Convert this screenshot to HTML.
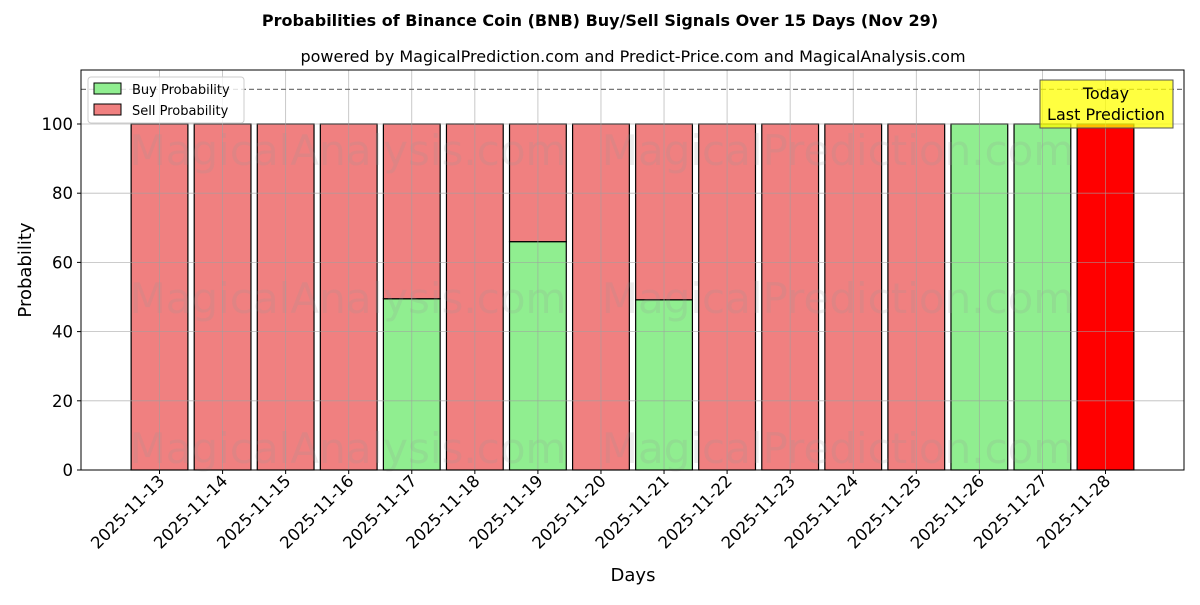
<!DOCTYPE html>
<html><head><meta charset="utf-8"><style>
body{margin:0;background:#fff;font-family:"Liberation Sans","DejaVu Sans",sans-serif}
svg text{font-family:"DejaVu Sans","Liberation Sans",sans-serif}
</style></head><body>
<svg id="c" width="1200" height="600" xmlns="http://www.w3.org/2000/svg"></svg>
<script>
const categories=["2025-11-13","2025-11-14","2025-11-15","2025-11-16","2025-11-17","2025-11-18","2025-11-19","2025-11-20","2025-11-21","2025-11-22","2025-11-23","2025-11-24","2025-11-25","2025-11-26","2025-11-27","2025-11-28"];
const buyValues=[0,0,0,0,49.5,0,66,0,49.2,0,0,0,0,100,100,0];
const sellValues=[100,100,100,100,50.5,100,34,100,50.8,100,100,100,100,0,0,100];
const yTicks=[0,20,40,60,80,100];
const NS="http://www.w3.org/2000/svg";
const svg=document.getElementById('c');
const L=81,R=1184,T=70,B=470;
const xMin=-1.245,xMax=16.245;
const x=v=>L+(v-xMin)/(xMax-xMin)*(R-L);
const y=v=>B-v*3.46;
function el(tag,attrs,parent){const e=document.createElementNS(NS,tag);for(const k in attrs)e.setAttribute(k,attrs[k]);(parent||svg).appendChild(e);return e;}
function txt(s,attrs){const e=el('text',attrs);e.textContent=s;return e;}
let t;
t=txt("Probabilities of Binance Coin (BNB) Buy/Sell Signals Over 15 Days (Nov 29)",{x:600,y:26,"text-anchor":"middle","font-size":16,"font-weight":"bold"});

t=txt("powered by MagicalPrediction.com and Predict-Price.com and MagicalAnalysis.com",{x:633,y:62,"text-anchor":"middle","font-size":16});

const bw=0.9;
categories.forEach((c,i)=>{
  const last=i===categories.length-1;
  if(buyValues[i]>0){const r=el('rect',{x:x(i-bw/2),y:y(buyValues[i]),width:x(i+bw/2)-x(i-bw/2),height:y(0)-y(buyValues[i]),fill:'#90ee90',stroke:'#000','stroke-width':1.2});
  }
  if(sellValues[i]>0){const r=el('rect',{x:x(i-bw/2),y:y(buyValues[i]+sellValues[i]),width:x(i+bw/2)-x(i-bw/2),height:y(buyValues[i])-y(buyValues[i]+sellValues[i]),fill:last?'#ff0000':'#f08080',stroke:'#000','stroke-width':1.2});
  }
});
[[348,150],[838,150],[348,298],[838,298],[348,448],[838,448]].forEach(p=>{
  const w=txt(p[0]<600?"MagicalAnalysis.com":"MagicalPrediction.com",{x:p[0],y:p[1]+15,"text-anchor":"middle","font-size":42,fill:"rgba(150,150,150,0.18)"});
  
});
categories.forEach((c,i)=>{const g=el('line',{x1:x(i),x2:x(i),y1:T,y2:B,stroke:'rgba(160,160,160,0.7)','stroke-width':0.8});
});
yTicks.forEach(v=>{const g=el('line',{x1:L,x2:R,y1:y(v),y2:y(v),stroke:'rgba(160,160,160,0.7)','stroke-width':0.8});
});
t=el('line',{x1:L,x2:R,y1:y(110),y2:y(110),stroke:'#777','stroke-width':1.2,'stroke-dasharray':'5,3'});

t=el('rect',{x:L,y:T,width:R-L,height:B-T,fill:'none',stroke:'#000','stroke-width':1});

yTicks.forEach(v=>{el('line',{x1:L-4,x2:L,y1:y(v),y2:y(v),stroke:'#000'});
const l=txt(String(v),{x:L-8,y:y(v)+6,"text-anchor":"end","font-size":16.5});
});
categories.forEach((c,i)=>{el('line',{x1:x(i),x2:x(i),y1:B,y2:B+4,stroke:'#000'});
const ax=x(i)+6,ay=B+12;
const l=txt(c,{x:ax,y:ay,"text-anchor":"end","font-size":16.5,transform:`rotate(-45 ${ax} ${ay})`});
});
t=txt("Days",{x:633,y:581,"text-anchor":"middle","font-size":18});

t.setAttribute('y',581);
t=txt("Probability",{x:31,y:270,"text-anchor":"middle","font-size":18,transform:"rotate(-90 31 270)"});

const lg=el('g',{});
el('rect',{x:88,y:77,width:156,height:46,rx:3,fill:'rgba(255,255,255,0.8)',stroke:'#ccc'},lg);
el('rect',{x:94,y:83,width:27,height:11,fill:'#90ee90',stroke:'#000'},lg);
el('rect',{x:94,y:104,width:27,height:11,fill:'#f08080',stroke:'#000'},lg);
t=txt("Buy Probability",{x:132,y:94,"font-size":13});lg.appendChild(t);

t=txt("Sell Probability",{x:132,y:115,"font-size":13});lg.appendChild(t);

const an=el('g',{});
el('rect',{x:1040,y:80,width:133,height:48,fill:'rgba(255,255,0,0.75)',stroke:'#555'},an);
t=txt("Today",{x:1106,y:99,"text-anchor":"middle","font-size":16});an.appendChild(t);
t=txt("Last Prediction",{x:1106,y:120,"text-anchor":"middle","font-size":16});an.appendChild(t);
</script>
</body></html>
